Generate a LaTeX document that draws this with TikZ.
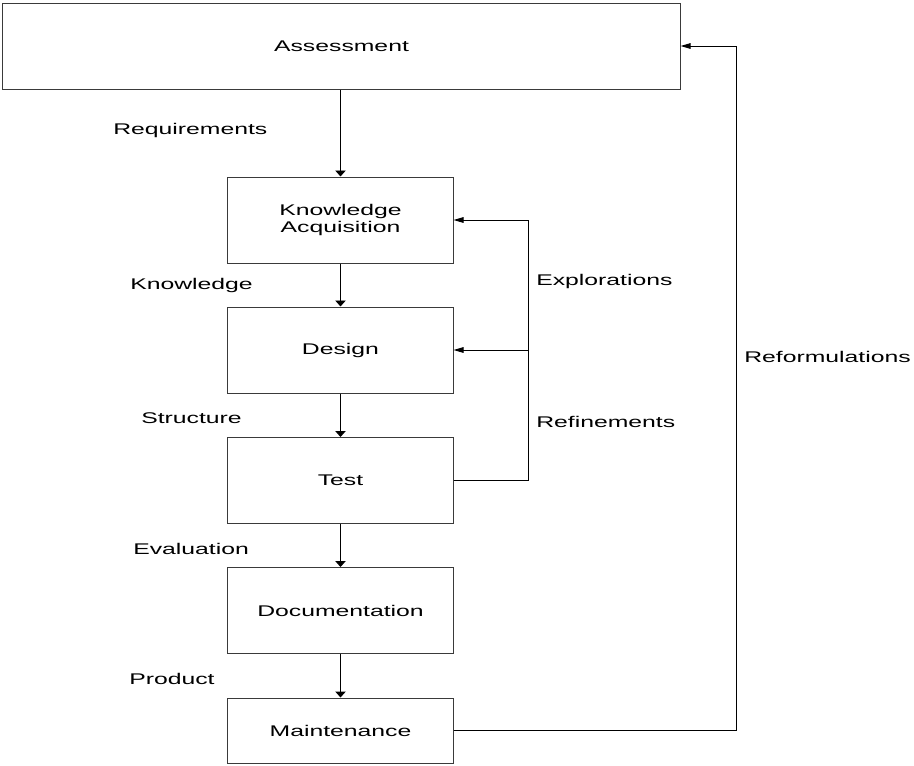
\documentclass[tikz,border=0pt]{standalone}
\usepackage{fontspec}
\setmainfont[FakeStretch=1.6]{Liberation Sans}
\usepackage{xcolor}
\definecolor{ink}{HTML}{000000}
\definecolor{edge}{HTML}{3A3A3A}
\usepackage{tikz}
\usetikzlibrary{arrows.meta,positioning}

\begin{document}
\begin{tikzpicture}[x=0.025cm, y=-0.025cm, font=\fontsize{11}{12}\selectfont,
  stage/.style={draw=edge, line width=0.7pt, minimum width=5.625cm, minimum height=2.15cm,
                align=center, inner sep=0pt},
  lbl/.style={anchor=west, inner sep=0pt, text=ink},
  varr/.style={-{Triangle[length=1.5mm, width=2.6mm]}, line width=0.7pt, color=ink},
  harr/.style={-{Triangle[length=2.5mm, width=1.4mm]}, line width=0.7pt, color=ink}]
\useasboundingbox (0, 0) rectangle (914, 765);
\node[stage, minimum width=16.925cm] (assess) at (341.5, 46) {Assessment};
\node[stage] (acq) at (340.5, 220) {Knowledge\\Acquisition};
\node[stage] (design) at (340.5, 350) {Design};
\node[stage] (test) at (340.5, 480.5) {Test};
\node[stage] (docu) at (340.5, 610.5) {Documentation};
\node[stage, minimum height=1.625cm] (maint) at (340.5, 730.5) {Maintenance};
\coordinate (loop) at (528, 0);
\coordinate (back) at (736, 0);
\node[lbl] (lreq) at (113, 130) {Requirements};
\node[lbl] (lknow) at (130, 285) {Knowledge};
\node[lbl] (lstruct) at (141, 418) {Structure};
\node[lbl] (leval) at (133, 549) {Evaluation};
\node[lbl] (lprod) at (129, 679) {Product};
\node[lbl] (lexpl) at (536, 281) {Explorations};
\node[lbl] (lrefi) at (536, 422) {Refinements};
\node[lbl] (lreform) at (744, 357) {Reformulations};
\draw[varr] (assess.south -| acq.north) -- (acq.north);
\draw[varr] (acq) -- (design);
\draw[varr] (design) -- (test);
\draw[varr] (test) -- (docu);
\draw[varr] (docu) -- (maint);
\draw[harr] (test.east) -- (test.east -| loop) |- (acq.east);
\draw[harr] (test.east -| loop) |- (design.east);
\draw[harr] (maint.east) -- (maint.east -| back) |- (assess.east);
\end{tikzpicture}
\end{document}
